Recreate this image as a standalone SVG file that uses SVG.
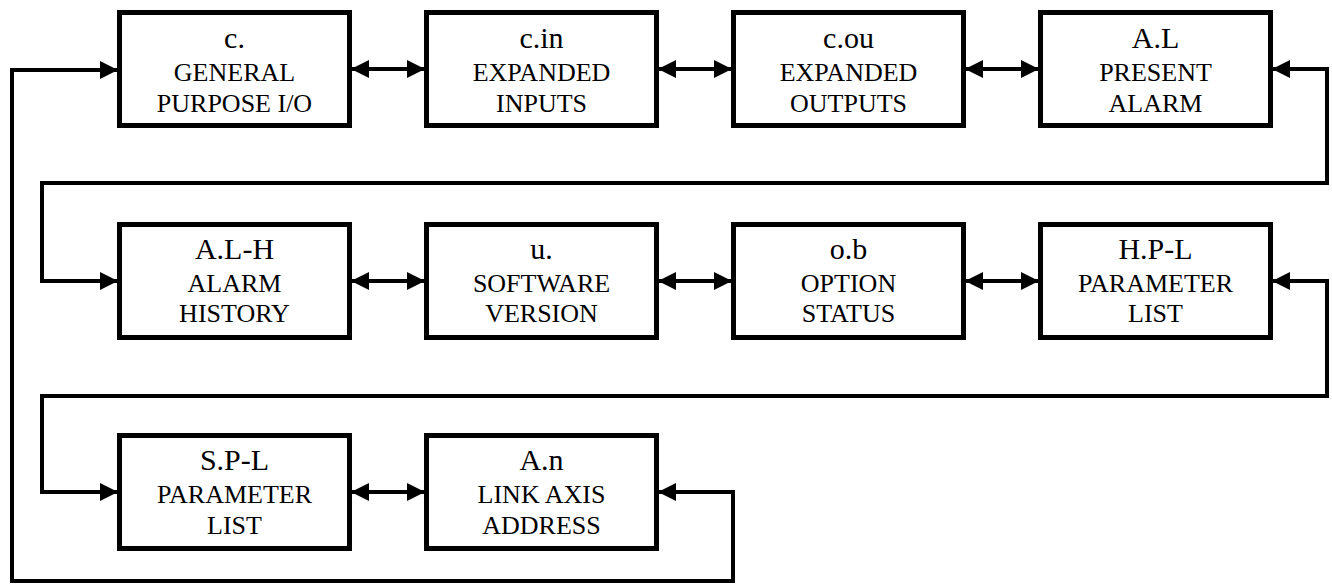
<svg xmlns="http://www.w3.org/2000/svg" width="1332" height="586" viewBox="0 0 1332 586">
<style>
.box{fill:#fff;stroke:#000;stroke-width:5}
text{font-family:'Liberation Serif','DejaVu Serif','Times New Roman',Times,serif;text-anchor:middle;fill:#000;font-weight:normal}
.t1{font-size:30px}
.t2{font-size:26px}
.ln{fill:none;stroke:#000;stroke-width:4;stroke-linejoin:miter}
</style>
<defs>
<marker id="ah" markerUnits="userSpaceOnUse" markerWidth="18" markerHeight="18" refX="17" refY="9" orient="auto-start-reverse" viewBox="0 0 18 18">
<path d="M0,0 L18,9 L0,18 z" fill="#000"/>
</marker>
</defs>
<g id="connectors">
<line class="ln" x1="352" y1="69" x2="424" y2="69" marker-start="url(#ah)" marker-end="url(#ah)"/>
<line class="ln" x1="659" y1="69" x2="731" y2="69" marker-start="url(#ah)" marker-end="url(#ah)"/>
<line class="ln" x1="966" y1="69" x2="1038" y2="69" marker-start="url(#ah)" marker-end="url(#ah)"/>
<line class="ln" x1="352" y1="281" x2="424" y2="281" marker-start="url(#ah)" marker-end="url(#ah)"/>
<line class="ln" x1="659" y1="281" x2="731" y2="281" marker-start="url(#ah)" marker-end="url(#ah)"/>
<line class="ln" x1="966" y1="281" x2="1038" y2="281" marker-start="url(#ah)" marker-end="url(#ah)"/>
<line class="ln" x1="352" y1="492" x2="424" y2="492" marker-start="url(#ah)" marker-end="url(#ah)"/>
<path class="ln" d="M1273,69 H1327 V183 H42 V281 H117" marker-start="url(#ah)" marker-end="url(#ah)"/>
<path class="ln" d="M1273,281 H1327 V396 H42 V492 H117" marker-start="url(#ah)" marker-end="url(#ah)"/>
<path class="ln" d="M659,492 H733 V581 H12 V70 H117" marker-start="url(#ah)" marker-end="url(#ah)"/>
</g>
<g id="n1"><rect class="box" x="119.5" y="12.5" width="230" height="113"/>
<text class="t1" x="234.5" y="48">c.</text><text class="t2" x="234.5" y="81">GENERAL</text><text class="t2" x="234.5" y="112">PURPOSE I/O</text></g>
<g id="n2"><rect class="box" x="426.5" y="12.5" width="230" height="113"/>
<text class="t1" x="541.5" y="48">c.in</text><text class="t2" x="541.5" y="81">EXPANDED</text><text class="t2" x="541.5" y="112">INPUTS</text></g>
<g id="n3"><rect class="box" x="733.5" y="12.5" width="230" height="113"/>
<text class="t1" x="848.5" y="48">c.ou</text><text class="t2" x="848.5" y="81">EXPANDED</text><text class="t2" x="848.5" y="112">OUTPUTS</text></g>
<g id="n4"><rect class="box" x="1040.5" y="12.5" width="230" height="113"/>
<text class="t1" x="1155.5" y="48">A.L</text><text class="t2" x="1155.5" y="81">PRESENT</text><text class="t2" x="1155.5" y="112">ALARM</text></g>
<g id="n5"><rect class="box" x="119.5" y="224.5" width="230" height="113"/>
<text class="t1" x="234.5" y="259">A.L-H</text><text class="t2" x="234.5" y="292">ALARM</text><text class="t2" x="234.5" y="322">HISTORY</text></g>
<g id="n6"><rect class="box" x="426.5" y="224.5" width="230" height="113"/>
<text class="t1" x="541.5" y="259">u.</text><text class="t2" x="541.5" y="292">SOFTWARE</text><text class="t2" x="541.5" y="322">VERSION</text></g>
<g id="n7"><rect class="box" x="733.5" y="224.5" width="230" height="113"/>
<text class="t1" x="848.5" y="259">o.b</text><text class="t2" x="848.5" y="292">OPTION</text><text class="t2" x="848.5" y="322">STATUS</text></g>
<g id="n8"><rect class="box" x="1040.5" y="224.5" width="230" height="113"/>
<text class="t1" x="1155.5" y="259">H.P-L</text><text class="t2" x="1155.5" y="292">PARAMETER</text><text class="t2" x="1155.5" y="322">LIST</text></g>
<g id="n9"><rect class="box" x="119.5" y="435.5" width="230" height="113"/>
<text class="t1" x="234.5" y="470">S.P-L</text><text class="t2" x="234.5" y="503">PARAMETER</text><text class="t2" x="234.5" y="534">LIST</text></g>
<g id="n10"><rect class="box" x="426.5" y="435.5" width="230" height="113"/>
<text class="t1" x="541.5" y="470">A.n</text><text class="t2" x="541.5" y="503">LINK AXIS</text><text class="t2" x="541.5" y="534">ADDRESS</text></g>
</svg>
